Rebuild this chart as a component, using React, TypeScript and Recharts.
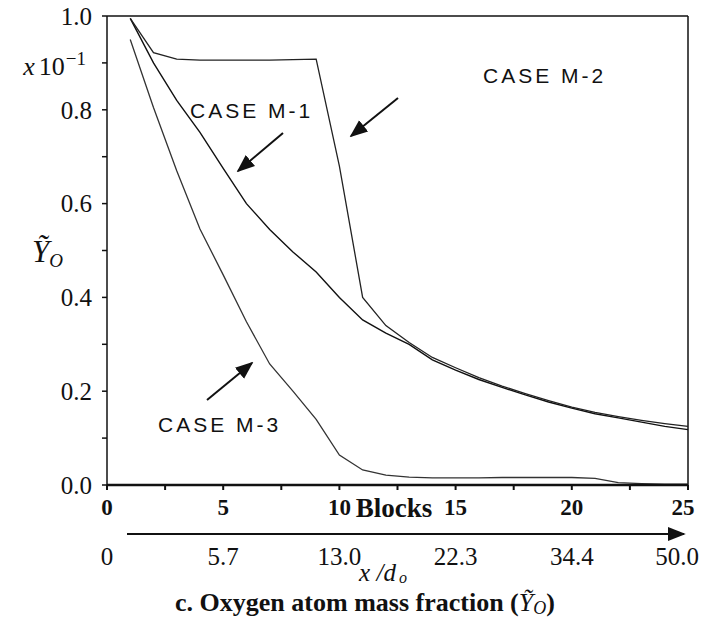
import React from 'react';
import {
  LineChart,
  Line,
  XAxis,
  YAxis,
  ReferenceLine,
} from 'recharts';

// block index along the duct
const blocks = [
  1, 2, 3, 4, 5, 6, 7, 8, 9, 10, 11, 12, 13, 14, 15, 16, 17, 18, 19, 20, 21,
  22, 23, 24, 25,
];

// oxygen atom mass fraction (x 10^-1)
const caseM1 = [
  0.995, 0.9, 0.82, 0.752, 0.675, 0.6, 0.545, 0.497, 0.454, 0.4, 0.352, 0.324,
  0.3, 0.267, 0.245, 0.225, 0.208, 0.192, 0.177, 0.164, 0.152, 0.143, 0.134,
  0.125, 0.118,
];
const caseM2 = [
  0.995, 0.922, 0.908, 0.906, 0.906, 0.906, 0.906, 0.907, 0.908, 0.68, 0.4,
  0.34, 0.304, 0.272, 0.25, 0.229, 0.211, 0.195, 0.18, 0.166, 0.155, 0.146,
  0.138, 0.131, 0.125,
];
const caseM3 = [
  0.95, 0.805, 0.67, 0.546, 0.448, 0.348, 0.258, 0.2, 0.14, 0.064, 0.032,
  0.021, 0.017, 0.015, 0.015, 0.015, 0.016, 0.016, 0.016, 0.016, 0.014, 0.005,
  0.003, 0.002, 0.002,
];

const blockTicks = [0, 2.5, 5, 7.5, 10, 12.5, 15, 17.5, 20, 22.5, 25];
const blockLabels = ['0', '', '5', '', '10', '', '15', '', '20', '', '25'];
const xdTicks = [0, 5, 10, 15, 20, 25];
const xdLabels = ['0', '5.7', '13.0', '22.3', '34.4', '50.0'];
const yTicks = [0, 0.1, 0.2, 0.3, 0.4, 0.5, 0.6, 0.7, 0.8, 0.9, 1.0];
const yLabels = ['0.0', '', '0.2', '', '0.4', '', '0.6', '', '0.8', 'x10', '1.0'];

const data = blocks.map((b, i) => ({
  block: b,
  m1: caseM1[i],
  m2: caseM2[i],
  m3: caseM3[i],
}));

const SERIF = '"Liberation Serif", "DejaVu Serif", serif';
const SANS = '"Liberation Sans", Arial, sans-serif';
const W = 711;
const H = 619;

const YTick = (props: any) => {
  const { x, y, index } = props;
  const label = yLabels[index];
  if (!label) return null;
  if (label === 'x10') {
    return (
      <text x={x - 6} y={y + 3} dy='0.35em' textAnchor='end' fontFamily={SERIF} fontSize={26} fill='#111'>
        <tspan fontStyle='italic'>x</tspan>
        <tspan dx={4}>10</tspan>
        <tspan fontSize={19} dx={1} dy={-10}>−1</tspan>
      </text>
    );
  }
  return (
    <text x={x} y={y} dy='0.35em' textAnchor='end' fontFamily={SERIF} fontSize={25} fill='#111'>
      {label}
    </text>
  );
};

// bottom tick label; the last one is pulled in so it stays inside the page
const XTick = (props: any) => {
  const { x, y, index, labels, bold, last } = props;
  const label = labels[index];
  if (!label) return null;
  const shift = index === labels.length - 1 ? last : 0;
  return (
    <text
      x={x + shift}
      y={y}
      dy='0.71em'
      textAnchor='middle'
      fontFamily={SERIF}
      fontSize={bold ? 23 : 25}
      fontWeight={bold ? 'bold' : 'normal'}
      fill='#111'
    >
      {label}
    </text>
  );
};

const App = () => {
  // pull the chart into the page corner so its coordinates match the page
  return (
    <div style={{ position: 'relative', width: W, height: H, margin: '-8px 0 0 -8px' }}>
      <LineChart
        width={W}
        height={H}
        data={data}
        margin={{ top: 16, right: 23, left: 0, bottom: 38 }}
      >
        <XAxis
          xAxisId='blocks'
          dataKey='block'
          type='number'
          domain={[0, 25]}
          ticks={blockTicks}
          interval={0}
          tickSize={5}
          tickMargin={9}
          height={36}
          axisLine={{ stroke: '#111', strokeWidth: 2.5 }}
          tickLine={{ stroke: '#111', strokeWidth: 2 }}
          tick={<XTick labels={blockLabels} bold last={-5} />}
        />
        <XAxis
          xAxisId='xd'
          dataKey='block'
          type='number'
          domain={[0, 25]}
          ticks={xdTicks}
          interval={0}
          tickSize={0}
          tickMargin={26}
          height={60}
          axisLine={false}
          tickLine={false}
          tick={<XTick labels={xdLabels} last={-11} />}
        />
        <YAxis
          type='number'
          domain={[0, 1]}
          ticks={yTicks}
          interval={0}
          width={107}
          tickSize={5}
          tickMargin={10}
          axisLine={{ stroke: '#111', strokeWidth: 1.5 }}
          tickLine={{ stroke: '#111', strokeWidth: 1.5 }}
          tick={<YTick />}
        />
        <ReferenceLine xAxisId='blocks' y={1} stroke='#111' strokeWidth={1.5} />
        <ReferenceLine xAxisId='blocks' x={25} stroke='#111' strokeWidth={1.5} />
        <Line
          xAxisId='blocks'
          type='linear'
          dataKey='m1'
          stroke='#111'
          strokeWidth={1.4}
          dot={false}
          isAnimationActive={false}
        />
        <Line
          xAxisId='blocks'
          type='linear'
          dataKey='m2'
          stroke='#222'
          strokeWidth={1.3}
          dot={false}
          isAnimationActive={false}
        />
        <Line
          xAxisId='blocks'
          type='linear'
          dataKey='m3'
          stroke='#333'
          strokeWidth={1.3}
          dot={false}
          isAnimationActive={false}
        />
      </LineChart>

      <svg
        width={W}
        height={H}
        style={{ position: 'absolute', left: 0, top: 0, pointerEvents: 'none', overflow: 'visible' }}
      >
        <defs>
          <marker id='head' viewBox='0 0 10 10' refX='9' refY='5' markerWidth='9' markerHeight='9' orient='auto'>
            <path d='M0,1 L10,5 L0,9 z' fill='#111' />
          </marker>
        </defs>

        {/* y axis title */}
        <text x={32} y={262} fontFamily={SERIF} fontSize={31} fontStyle='italic' fill='#111'>
          Ỹ<tspan fontSize={19} dy={5}>O</tspan>
        </text>

        {/* case annotations */}
        <text x={190} y={118} fontFamily={SANS} fontSize={21} letterSpacing={3} fill='#111'>
          CASE M-1
        </text>
        <line x1={283} y1={133} x2={238} y2={171} stroke='#111' strokeWidth={2} markerEnd='url(#head)' />
        <text x={483} y={83} fontFamily={SANS} fontSize={21} letterSpacing={3} fill='#111'>
          CASE M-2
        </text>
        <line x1={398} y1={98} x2={351} y2={136} stroke='#111' strokeWidth={2} markerEnd='url(#head)' />
        <text x={158} y={432} fontFamily={SANS} fontSize={21} letterSpacing={3} fill='#111'>
          CASE M-3
        </text>
        <line x1={207} y1={400} x2={252} y2={363} stroke='#111' strokeWidth={2} markerEnd='url(#head)' />

        <text x={394} y={517} textAnchor='middle' fontFamily={SERIF} fontSize={27} fontWeight='bold' fill='#111'>
          Blocks
        </text>

        {/* x/d_o arrow axis */}
        <line x1={127} y1={534} x2={684} y2={534} stroke='#111' strokeWidth={2} markerEnd='url(#head)' />
        <text x={383} y={581} textAnchor='middle' fontFamily={SERIF} fontSize={25} fontStyle='italic' fill='#111'>
          x /d<tspan fontSize={16} dx={3} dy={2}>o</tspan>
        </text>

        <text x={365} y={611} textAnchor='middle' fontFamily={SERIF} fontSize={26} fontWeight='bold' fill='#111'>
          c. Oxygen atom mass fraction (
          <tspan fontStyle='italic' fontWeight='normal'>Ỹ</tspan>
          <tspan fontStyle='italic' fontWeight='normal' fontSize={18} dy={3}>O</tspan>
          <tspan dy={-3}>)</tspan>
        </text>
      </svg>
    </div>
  );
};

export default App;
